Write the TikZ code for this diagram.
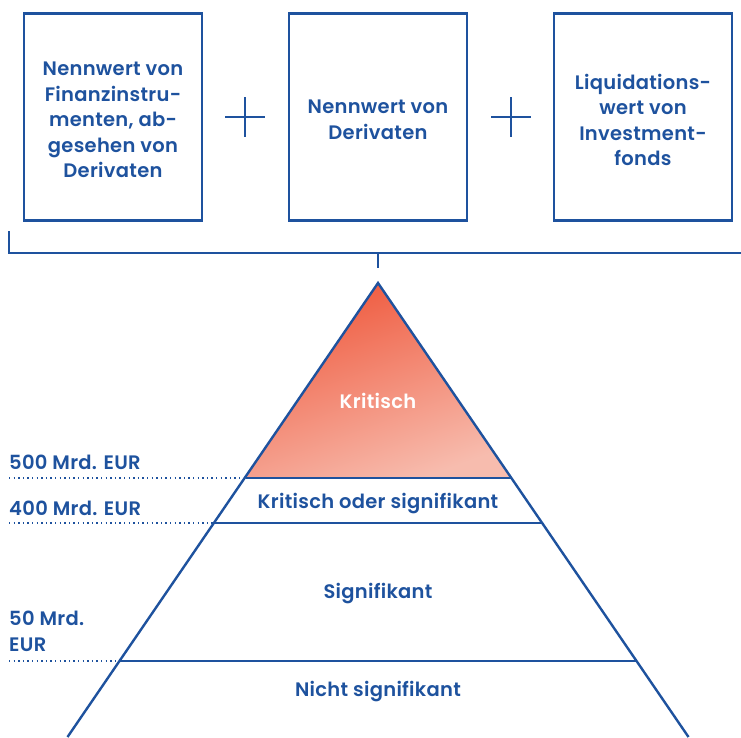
\documentclass[tikz,border=0pt]{standalone}
\usepackage{fontspec}
\setmainfont{Poppins SemiBold}[LetterSpace=1.5]
\usetikzlibrary{calc}
\definecolor{eblue}{RGB}{30,82,158}
\definecolor{redtop}{RGB}{239,88,60}
\definecolor{redbot}{RGB}{247,188,174}
\tikzset{
  box/.style={draw=eblue, line width=2.6pt, minimum width=178pt, minimum height=207pt, inner sep=0pt},
  txt/.style={text=eblue, font=\fontsize{19.5}{25.5}\selectfont, align=center},
  lbl/.style={text=eblue, font=\fontsize{19.5}{26}\selectfont, align=left, anchor=base west, inner sep=0pt},
  ln/.style={draw=eblue, line width=2.4pt},
  dots/.style={draw=eblue, line width=1.4pt, dash pattern=on 1.4pt off 3.2pt},
}
\begin{document}
\begin{tikzpicture}[x=1pt,y=-1pt]
\useasboundingbox (0,0) rectangle (741,737);
% boxes
\node[box] (b1) at (113,117) {};
\node[box] (b2) at (378,117) {};
\node[box] (b3) at (643,117) {};
\node[txt] (t1) at (113,120) {Nennwert von\\Finanzinstru-\\menten, ab-\\gesehen von\\Derivaten};
\node[txt] (t2) at (378,120) {Nennwert von\\Derivaten};
\node[txt] (t3) at (643,120) {Liquidations-\\wert von\\Investment-\\fonds};
% plus signs
\coordinate (p1) at (245,117);
\coordinate (p2) at (511,117);
\draw[ln] ($(p1)+(-20,0)$) -- ($(p1)+(20,0)$);
\draw[ln] ($(p1)+(0,-20)$) -- ($(p1)+(0,20)$);
\draw[ln] ($(p2)+(-20,0)$) -- ($(p2)+(20,0)$);
\draw[ln] ($(p2)+(0,-20)$) -- ($(p2)+(0,20)$);
% bracket
\coordinate (bl) at (9,231);
\coordinate (bc) at (9,253);
\coordinate (br) at (745,253);
\coordinate (tk) at (378,253);
\coordinate (tk2) at (378,268);
\draw[ln] (bl) -- (bc) -- (br);
\draw[ln] (tk) -- (tk2);
% pyramid
\coordinate (apex) at (378,283);
\coordinate (l1) at (245.5,478);
\coordinate (r1) at (510.5,478);
\coordinate (l2) at (214.5,523);
\coordinate (r2) at (541.5,523);
\coordinate (l3) at (120,661);
\coordinate (r3) at (636,661);
\coordinate (l4) at (67.5,737);
\coordinate (r4) at (688.5,737);
\shade[top color=redtop, bottom color=redbot, shading angle=20] (apex) -- (l1) -- (r1) -- cycle;
\draw[ln, line join=miter] (l4) -- (apex) -- (r4);
\draw[ln] (l1) -- (r1);
\draw[ln] (l2) -- (r2);
\draw[ln] (l3) -- (r3);
% dotted
\coordinate (d1) at (9,478);
\coordinate (d2) at (9,523);
\coordinate (d3) at (9,661);
\draw[dots] (d1) -- (l1);
\draw[dots] (d2) -- (l2);
\draw[dots] (d3) -- (l3);
% labels
\node[lbl] (v500) at (9,469) {500 Mrd. EUR};
\node[lbl] (v400) at (9,515) {400 Mrd. EUR};
\node[lbl] (v50) at (9,651) {50 Mrd.\\EUR};
\node[txt, text=white] (k1) at (378,401) {Kritisch};
\node[txt] (k2) at (378,504) {Kritisch oder signifikant};
\node[txt] (k3) at (378,594) {Signifikant};
\node[txt] (k4) at (378,692) {Nicht signifikant};
\end{tikzpicture}
\end{document}
